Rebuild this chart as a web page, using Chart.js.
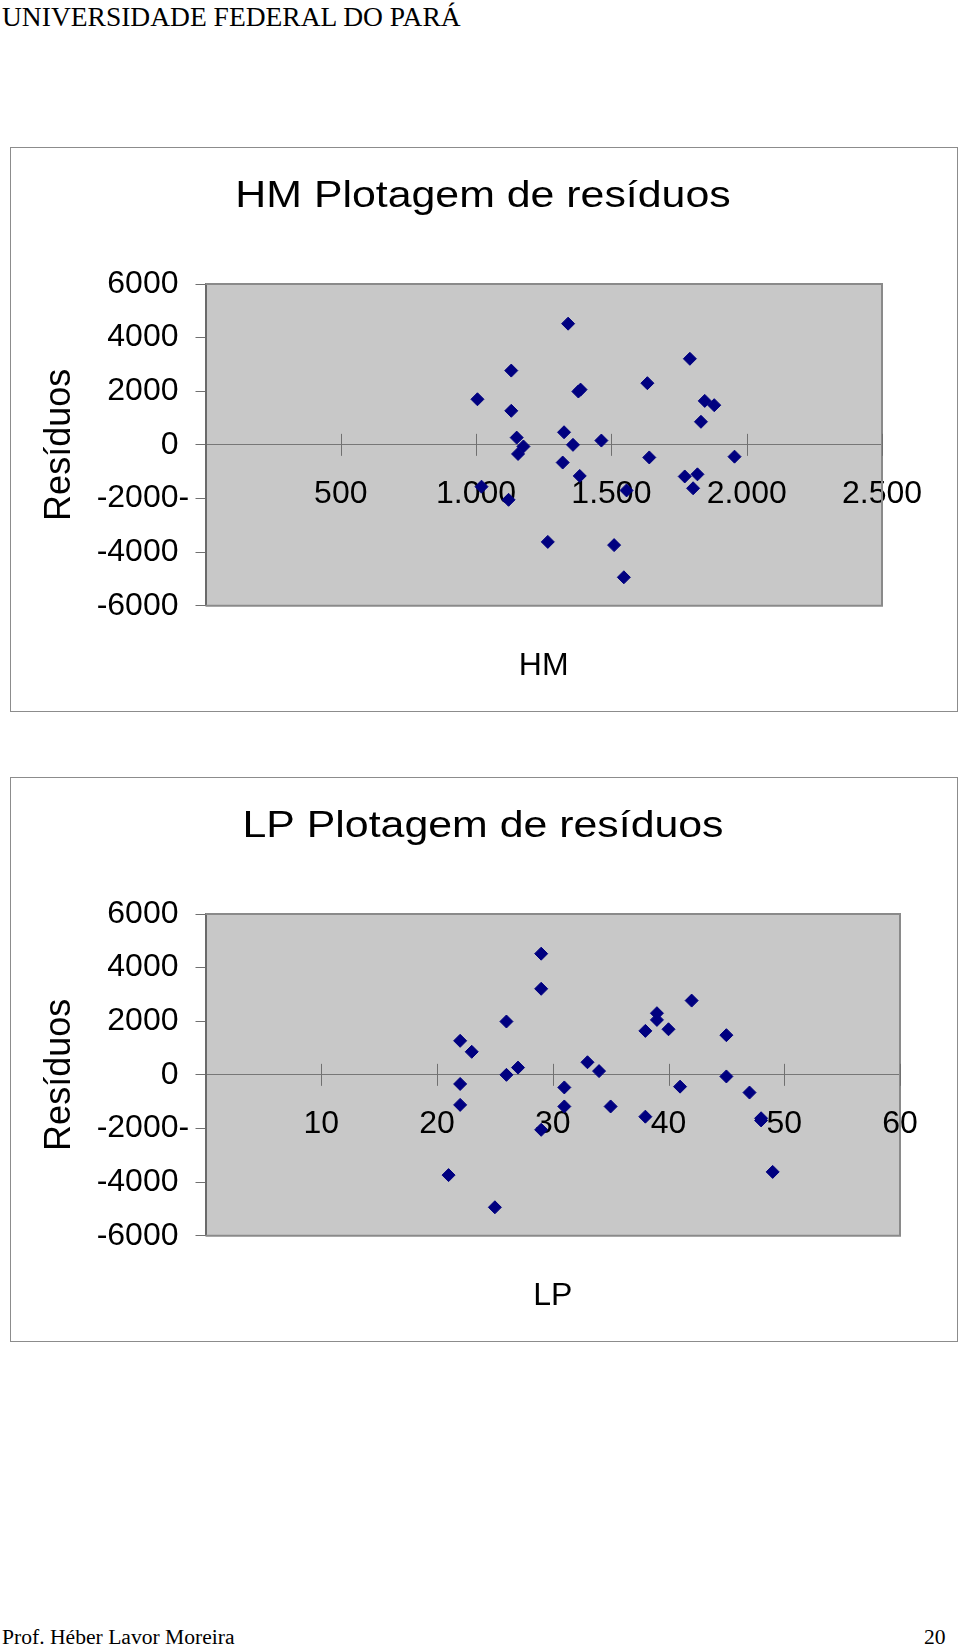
<!DOCTYPE html>
<html>
<head>
<meta charset="utf-8">
<script src="https://cdn.jsdelivr.net/npm/chart.js@4/dist/chart.umd.min.js"></script>
<style>
  html, body { margin: 0; padding: 0; background: #fff; }
  body { width: 960px; height: 1649px; position: relative; overflow: hidden; }
  .serif { position: absolute; font-family: "Liberation Serif", "Times New Roman", serif; color: #000; white-space: nowrap; }
  .hdr { left: 2px; top: 3px; font-size: 27.5px; line-height: 27px; }
  .ftr { top: 1627px; font-size: 21.6px; line-height: 21px; }
  .box { position: absolute; left: 10px; width: 946px; height: 563px; border: 1px solid #8c8c8c; background: #fff; }
  .box canvas { position: absolute; left: 0; top: 0; }
</style>
</head>
<body>
<div class="serif hdr">UNIVERSIDADE FEDERAL DO PARÁ</div>

<div class="box" style="top:147px;"><canvas id="hm" width="946" height="563" style="width:946px;height:563px;"></canvas></div>
<div class="box" style="top:777px;"><canvas id="lp" width="946" height="563" style="width:946px;height:563px;"></canvas></div>

<div class="serif ftr" style="left:2px;">Prof. Héber Lavor Moreira</div>
<div class="serif ftr" style="left:924px;">20</div>

<script>
// ---------- data ----------
const hmX     = [1005, 1130, 1130, 1150, 1175, 1155, 1020, 1120, 1265, 1340, 1325, 1320, 1358, 1378, 1386, 1383, 1463, 1556, 1510, 1546, 1633, 1640, 1790, 1771, 1818, 1802, 1845, 1880, 1831, 1955];
const hmResid = [1700, 2770, 1270, 270, -60, -340, -1560, -2050, -3620, 4520, 470, -660, 0, 1990, 2060, -1160, 160, -1700, -3740, -4940, 2300, -470, 3210, -1180, -1100, -1620, 1640, 1480, 860, -440];

const lpX     = [29, 29, 26, 22, 23, 27, 26, 22, 22, 21, 25, 29, 31, 31, 33, 34, 35, 38, 38, 39, 39, 40, 42, 41, 45, 45, 47, 48, 48, 49];
const lpResid = [4520, 3210, 1990, 1270, 860, 270, 0, -340, -1120, -3740, -4940, -2050, -470, -1180, 470, 140, -1180, 1640, -1560, 2300, 2050, 1700, 2770, -440, 1480, -60, -660, -1620, -1700, -3620];

const yTicks      = [-6000, -4000, -2000, 0, 2000, 4000, 6000];
const yTickLabels = ['-6000', '-4000', '-2000', '0', '2000', '4000', '6000'];

const hmXTicks      = [500, 1000, 1500, 2000, 2500];
const hmXTickLabels = ['500', '1.000', '1.500', '2.000', '2.500'];
const lpXTicks      = [10, 20, 30, 40, 50, 60];
const lpXTickLabels = ['10', '20', '30', '40', '50', '60'];

const hmTitle = 'HM Plotagem de resíduos';
const lpTitle = 'LP Plotagem de resíduos';
const yTitle  = 'Resíduos';

// ---------- styling / drawing helpers ----------
const SANS = '"Liberation Sans", Arial, Helvetica, sans-serif';
const NAVY = '#000080';
const Y_TICK_LEN = 10;
const Y_TICK_PAD = 17;

const plotBg = {
  id: 'plotBg',
  beforeDraw(chart) {
    const { ctx, chartArea: a } = chart;
    ctx.save();
    ctx.fillStyle = '#c8c8c8';
    ctx.fillRect(a.left, a.top, a.right - a.left, a.bottom - a.top);
    ctx.restore();
  },
  beforeDatasetsDraw(chart) {
    const { ctx, chartArea: a, scales } = chart;
    ctx.save();
    ctx.strokeStyle = '#8a8a8a';
    ctx.lineWidth = 2;
    ctx.beginPath();
    ctx.moveTo(a.left, a.top);
    ctx.lineTo(a.right, a.top);
    ctx.lineTo(a.right, a.bottom);
    ctx.lineTo(a.left, a.bottom);
    ctx.stroke();
    const y0 = scales.y.getPixelForValue(0);
    ctx.strokeStyle = '#707070';
    ctx.lineWidth = 1;
    ctx.beginPath();
    scales.x.ticks.forEach(t => {
      const px = Math.round(scales.x.getPixelForValue(t.value)) + 0.5;
      ctx.moveTo(px, y0 - 11);
      ctx.lineTo(px, y0 + 11);
    });
    ctx.stroke();
    ctx.restore();
  }
};

const extraText = {
  id: 'extraText',
  afterDraw(chart, args, o) {
    const { ctx, chartArea: a, scales } = chart;
    ctx.save();
    ctx.fillStyle = '#000';
    ctx.font = '36px ' + SANS;
    ctx.textAlign = 'center';
    ctx.textBaseline = 'alphabetic';
    ctx.save();
    ctx.translate(472, 59);
    ctx.scale(1.19, 1);
    ctx.fillText(o.title, 0, 0);
    ctx.restore();
    ctx.font = '32px ' + SANS;
    ctx.fillText(o.xTitle, (a.left + a.right) / 2, 527);
    ctx.save();
    ctx.font = '36px ' + SANS;
    ctx.translate(59, (a.top + a.bottom) / 2);
    ctx.rotate(-Math.PI / 2);
    ctx.fillText(o.yTitle, 0, 0);
    ctx.restore();
    // stray dash printed after the -2000 label in the reference
    ctx.font = '32px ' + SANS;
    ctx.textAlign = 'left';
    ctx.textBaseline = 'middle';
    ctx.fillText('-', a.left - Y_TICK_LEN - Y_TICK_PAD, scales.y.getPixelForValue(-2000));
    ctx.restore();
  }
};

function makeChart(id, xs, ys, xMax, xTicks, xLabels, title, xTitle, padRight) {
  const pts = xs.map((x, i) => ({ x: x, y: ys[i] }));
  return new Chart(document.getElementById(id), {
    type: 'scatter',
    data: {
      datasets: [{
        data: pts,
        pointStyle: 'rectRot',
        pointRadius: 6.5,
        pointBorderWidth: 1,
        backgroundColor: NAVY,
        borderColor: NAVY
      }]
    },
    options: {
      responsive: false,
      animation: false,
      events: [],
      layout: { padding: { left: 0, top: 136, right: padRight, bottom: 105.3 } },
      plugins: {
        legend: { display: false },
        tooltip: { enabled: false },
        title: { display: false },
        extraText: { title: title, xTitle: xTitle, yTitle: yTitle }
      },
      scales: {
        x: {
          type: 'linear',
          min: 0,
          max: xMax,
          position: { y: 0 },
          afterBuildTicks: (s) => { s.ticks = xTicks.map(v => ({ value: v })); },
          ticks: {
            autoSkip: false,
            maxRotation: 0,
            padding: 30,
            color: '#000',
            font: { family: SANS, size: 32 },
            callback: (v) => { const i = xTicks.indexOf(v); return i >= 0 ? xLabels[i] : ''; }
          },
          grid: { display: true, drawOnChartArea: false, drawTicks: false },
          border: { display: true, color: '#777777', width: 1 }
        },
        y: {
          type: 'linear',
          min: -6000,
          max: 6000,
          position: 'left',
          afterBuildTicks: (s) => { s.ticks = yTicks.map(v => ({ value: v })); },
          afterFit: (s) => { s.width = 194.5; },
          ticks: {
            autoSkip: false,
            padding: Y_TICK_PAD,
            color: '#000',
            font: { family: SANS, size: 32 },
            callback: (v) => { const i = yTicks.indexOf(v); return i >= 0 ? yTickLabels[i] : ''; }
          },
          grid: { display: true, drawOnChartArea: false, drawTicks: true, tickLength: Y_TICK_LEN, color: '#707070', lineWidth: 1 },
          border: { display: true, color: '#6a6a6a', width: 2 }
        }
      }
    },
    plugins: [plotBg, extraText]
  });
}

makeChart('hm', hmX, hmResid, 2500, hmXTicks, hmXTickLabels, hmTitle, 'HM', 75);
makeChart('lp', lpX, lpResid, 60, lpXTicks, lpXTickLabels, lpTitle, 'LP', 57);
</script>
</body>
</html>
